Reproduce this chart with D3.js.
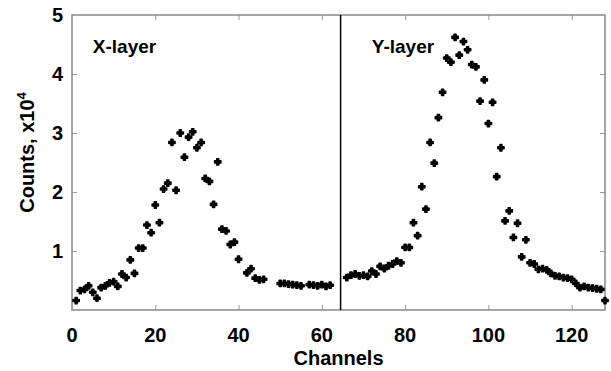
<!DOCTYPE html>
<html>
<head>
<meta charset="utf-8">
<script src="https://cdn.jsdelivr.net/npm/d3@7"></script>
<style>
  body { margin: 0; background: white; }
  text { font-family: Arial, "Liberation Sans", sans-serif; font-weight: bold; }
</style>
</head>
<body>
<div id="chart"></div>
<script>
// X-layer channels (left half of the detector)
const xChannels = [1, 2, 3, 4, 5, 6, 7, 8, 9, 10, 11, 12, 13, 14, 15, 16, 17, 18, 19, 20,
    21, 22, 23, 24, 25, 26, 27, 28, 29, 30, 31, 32, 33, 34, 35, 36, 37, 38, 39, 40,
    42, 43, 44, 45, 46, 50, 51, 52, 53, 54, 55, 57, 58, 59, 60, 61, 62];
const xCounts = [0.16, 0.33, 0.35, 0.41, 0.30, 0.20, 0.38, 0.41, 0.46, 0.48, 0.40, 0.61, 0.55, 0.85, 0.62, 1.05, 1.05, 1.44, 1.31, 1.78,
    1.48, 2.05, 2.15, 2.84, 2.03, 3.00, 2.59, 2.93, 3.02, 2.75, 2.84, 2.23, 2.18, 1.79, 2.51, 1.37, 1.34, 1.11, 1.15, 0.86,
    0.63, 0.70, 0.54, 0.51, 0.52, 0.45, 0.45, 0.44, 0.43, 0.42, 0.41, 0.43, 0.42, 0.41, 0.43, 0.40, 0.42];

// Y-layer channels (right half)
const yChannels = [66, 67, 68, 69, 70, 71, 72, 73, 74, 75, 76, 77, 78, 79, 80, 81, 82, 83, 84, 85,
    86, 87, 88, 89, 90, 91, 92, 93, 94, 95, 96, 97, 98, 99, 100, 101, 102, 103, 104, 105,
    106, 107, 108, 109, 110, 111, 112, 113, 114, 115, 116, 117, 118, 119, 120, 121, 122, 123, 124, 125,
    126, 127, 128];
const yCounts = [0.55, 0.59, 0.61, 0.58, 0.59, 0.57, 0.66, 0.61, 0.74, 0.70, 0.75, 0.78, 0.83, 0.80, 1.06, 1.06, 1.48, 1.26, 2.09, 1.71,
    2.84, 2.49, 3.26, 3.69, 4.27, 4.20, 4.62, 4.32, 4.55, 4.41, 4.16, 4.12, 3.54, 3.90, 3.16, 3.52, 2.26, 2.75, 1.51, 1.68,
    1.23, 1.47, 0.90, 1.19, 0.80, 0.78, 0.69, 0.70, 0.68, 0.62, 0.58, 0.57, 0.55, 0.54, 0.52, 0.45, 0.38, 0.40, 0.38, 0.37,
    0.36, 0.35, 0.16];

const xTicks = [0, 20, 40, 60, 80, 100, 120];
const yTicks = [1, 2, 3, 4, 5];
const layerSplit = 64.5;
const panelLabels = [{ text: 'X-layer', channel: 5 }, { text: 'Y-layer', channel: 72 }];

const W = 611, H = 371;
const margin = { top: 15, right: 6, bottom: 61, left: 72 };
const width = W - margin.left - margin.right;
const height = H - margin.top - margin.bottom;

const svg = d3.select('#chart')
    .append('svg')
    .attr('width', W)
    .attr('height', H)
    .append('g')
    .attr('transform', `translate(${margin.left},${margin.top})`);

const x = d3.scaleLinear().domain([0, 128]).range([0, width]);
const y = d3.scaleLinear().domain([0, 5]).range([height, 0]);

// frame ticks, pointing inwards on all four sides
const tickCol = '#999';
const inner = [20, 40, 60, 80, 100, 120];
const innerY = [1, 2, 3, 4];

function styleTicks(g) {
    g.select('.domain').remove();
    g.selectAll('.tick line').attr('stroke', tickCol).attr('stroke-width', 1);
}

svg.append('g')
    .attr('transform', `translate(0,${height})`)
    .call(d3.axisBottom(x).tickValues(inner).tickSize(-5).tickFormat(''))
    .call(styleTicks);
svg.append('g')
    .call(d3.axisTop(x).tickValues(inner).tickSize(-5).tickFormat(''))
    .call(styleTicks);
svg.append('g')
    .call(d3.axisLeft(y).tickValues(innerY).tickSize(-5).tickFormat(''))
    .call(styleTicks);
svg.append('g')
    .attr('transform', `translate(${width},0)`)
    .call(d3.axisRight(y).tickValues(innerY).tickSize(-5).tickFormat(''))
    .call(styleTicks);

svg.append('rect')
    .attr('width', width)
    .attr('height', height)
    .attr('fill', 'none')
    .attr('stroke', '#888')
    .attr('stroke-width', 1.5);

// tick labels
svg.append('g')
    .selectAll('text')
    .data(xTicks)
    .enter().append('text')
    .attr('x', d => x(d))
    .attr('y', height + 32)
    .attr('text-anchor', 'middle')
    .style('font-size', '20px')
    .text(d => d);

svg.append('g')
    .selectAll('text')
    .data(yTicks)
    .enter().append('text')
    .attr('x', -9)
    .attr('y', d => y(d) + 7)
    .attr('text-anchor', 'end')
    .style('font-size', '20px')
    .text(d => d);

// axis titles
svg.append('text')
    .attr('x', x(64))
    .attr('y', height + 55)
    .attr('text-anchor', 'middle')
    .style('font-size', '20px')
    .text('Channels');

const ylab = svg.append('text')
    .attr('transform', `translate(${-38},${y(2.67)}) rotate(-90)`)
    .attr('text-anchor', 'middle')
    .style('font-size', '20px');
ylab.append('tspan').text('Counts, x10');
ylab.append('tspan').attr('dy', -8).style('font-size', '13px').text('4');

// divider between the two layers
svg.append('line')
    .attr('x1', x(layerSplit))
    .attr('x2', x(layerSplit))
    .attr('y1', 0)
    .attr('y2', height)
    .attr('stroke', 'black')
    .attr('stroke-width', 1.5);

svg.selectAll('.panel-label')
    .data(panelLabels)
    .enter().append('text')
    .attr('class', 'panel-label')
    .attr('x', d => x(d.channel))
    .attr('y', 38)
    .style('font-size', '19px')
    .text(d => d.text);

// data points
const points = xChannels.map((c, i) => ({ c, v: xCounts[i] }))
    .concat(yChannels.map((c, i) => ({ c, v: yCounts[i] })));

const cross = d3.symbol().type(d3.symbolCross).size(22);

svg.selectAll('.pt')
    .data(points)
    .enter().append('path')
    .attr('class', 'pt')
    .attr('d', cross)
    .attr('transform', d => `translate(${x(d.c)},${y(d.v)})`)
    .attr('fill', 'black')
    .attr('stroke', 'black')
    .attr('stroke-width', 1.5)
    .attr('stroke-linejoin', 'round');
</script>
</body>
</html>
